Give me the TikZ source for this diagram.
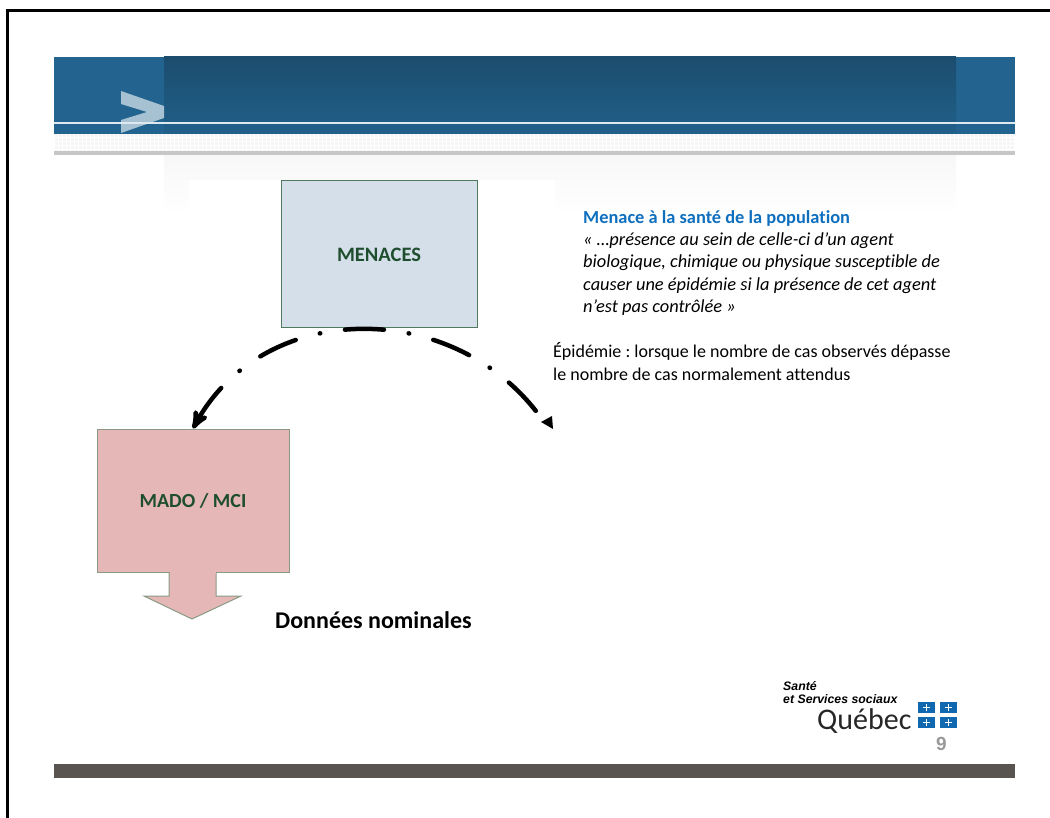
\documentclass[tikz,border=0pt]{standalone}
\usepackage{fontspec}
\usepackage{xcolor}
\setmainfont{Carlito}[Ligatures={ResetAll,NoCommon}]
\newfontfamily\numfont{Liberation Sans}
\newfontfamily\logofont{Liberation Sans}
\usetikzlibrary{arrows,positioning}
\definecolor{headerblue}{HTML}{22648F}
\definecolor{headerdark}{HTML}{1C4D6E}
\definecolor{headerlow}{HTML}{20608A}
\definecolor{menacefill}{HTML}{D5DFEA}
\definecolor{madofill}{HTML}{E5B8B7}
\definecolor{boxgreen}{HTML}{4F7A5F}
\definecolor{boxgrey}{HTML}{8A9A85}
\definecolor{labelgreen}{HTML}{1F4E2F}
\definecolor{titleblue}{HTML}{0F6FBF}
\definecolor{footgrey}{HTML}{595450}
\definecolor{flagblue}{HTML}{1068B0}
\frenchspacing

\begin{document}
\begin{tikzpicture}[x=1pt,y=-1pt,>=stealth',
	box/.style={rectangle,draw,line width=1pt,inner sep=0pt,text=labelgreen},
	textline/.style={anchor=base west,inner sep=0pt,font=\fontsize{18}{21}\selectfont},
	quoteline/.style={textline,font=\itshape\fontsize{18.4}{21}\selectfont},
	logoline/.style={textline,font=\logofont\bfseries\itshape\fontsize{12.3}{13}\selectfont},
	arcline/.style={draw,line width=4.5pt,line cap=round,dash pattern=on 44pt off 25pt on 0.5pt off 25pt on 39pt off 25pt on 0.5pt off 25pt on 39pt off 25pt on 0.5pt off 25pt on 39pt off 24pt on 0.5pt off 24pt on 39pt off 24pt on 0.5pt off 25pt}]
	\useasboundingbox (0,0) rectangle (1050,818);

	% The frame
	\draw[line width=3pt] (7.5,818) -- (7.5,10.5) -- (1050,10.5);

	% The header
	\shade[top color=black!3,bottom color=white] (164,155) rectangle (956,215);
	\fill[white] (189,180) rectangle (555,240);
	\fill[headerblue] (54,57) rectangle (1015,134);
	\shade[top color=headerdark,bottom color=headerlow] (164,57) rectangle (956,134);
	\fill[black!4] (54,134) rectangle (1015,151);
	\foreach \x in {54,58,...,1014}
		\draw[white,line width=0.8pt] (\x,134) -- (\x,151);
	\foreach \y in {137,141,...,149}
		\draw[white,line width=0.8pt] (54,\y) -- (1015,\y);
	\fill[black!22] (54,151) rectangle (1015,155);
	\fill[white,opacity=0.6] (121,91) -- (164,106) -- (164,118) -- (121,133) -- (121,120) -- (147,112) -- (121,104) -- cycle;
	\draw[white!85!headerblue,line width=2pt] (54,123) -- (1015,123);

	% The boxes
	\draw[boxgrey,fill=madofill,line width=1pt] (169,572) -- (169,596) -- (144,596) -- (192,619) -- (241,596) -- (216,596) -- (216,572);
	\node [box,draw=boxgreen,fill=menacefill,minimum width=196pt,minimum height=147pt,font=\bfseries\fontsize{20.5}{24}\selectfont] at (379,254.5) (menaces) {MENACES};
	\node [box,draw=boxgrey,fill=madofill,minimum width=192pt,minimum height=143pt,font=\bfseries\fontsize{20}{24}\selectfont] at (193,500.5) (mado) {MADO / MCI};
	\fill[madofill] (169.5,570) rectangle (215.5,574);

	% The arc
	\coordinate (arcend) at (546,425);
	\path[<-,arcline]
	(mado.north) .. controls (265,296) and (462,298) .. (arcend)
	;
	\fill (541,422) -- (552,416) -- (553,429) -- cycle;

	% The texts
	\node [textline,text=titleblue,font=\bfseries\fontsize{18.4}{21}\selectfont] at (583,224) (title) {Menace à la santé de la population};
	\node [quoteline] at (583,246) (line1) {« …présence au sein de celle-ci d'un agent};
	\node [quoteline] at (583,268) (line2) {biologique, chimique ou physique susceptible de};
	\node [quoteline] at (583,291) (line3) {causer une épidémie si la présence de cet agent};
	\node [quoteline] at (583,313) (line4) {n'est pas contrôlée »};
	\node [textline] at (553,358) (epi1) {Épidémie : lorsque le nombre de cas observés dépasse};
	\node [textline] at (553,381) (epi2) {le nombre de cas normalement attendus};
	\node [textline,font=\bfseries\fontsize{24}{28}\selectfont] at (275,628) (nominal) {Données nominales};

	% The logo
	\node [logoline] at (783,690) (sante) {Santé};
	\node [logoline] at (783,703) (services) {et Services sociaux};
	\node [textline,font=\fontsize{30}{32}\selectfont,text=black!85] at (817,729) (quebec) {Québec};
	\foreach \x in {918,940}
		\foreach \y in {702,717} {
			\fill[flagblue] (\x,\y) rectangle ++(17,11);
			\draw[white,line width=1.5pt] (\x+5,\y+5.5) -- ++(7,0);
			\draw[white,line width=1.5pt] (\x+8.5,\y+2) -- ++(0,7);
		}
	\node [textline,font=\numfont\bfseries\fontsize{19}{22}\selectfont,text=black!40] at (936,750) (page) {9};

	% The footer
	\fill[footgrey] (54,764) rectangle (1015,778);
\end{tikzpicture}
\end{document}
